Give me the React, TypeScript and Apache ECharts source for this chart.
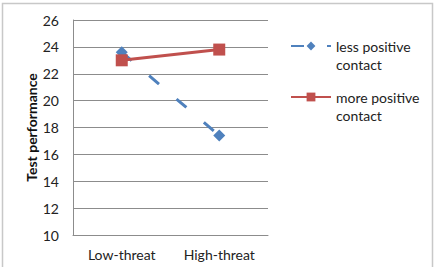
import React, { useEffect, useRef } from "react";
import * as echarts from "echarts";

const categories = ["Low-threat", "High-threat"];
const lessPositive = [23.6, 17.4];
const morePositive = [23.0, 23.8];
const seriesNames = ["less positive contact", "more positive contact"];
const legendLines: Record<string, string[]> = {
  "less positive contact": ["less positive", "contact"],
  "more positive contact": ["more positive", "contact"],
};
const yAxisName = "Test performance";

export default function App() {
  const ref = useRef<HTMLDivElement>(null);
  useEffect(() => {
    const chart = echarts.init(ref.current!, null, { renderer: "svg" });
    const font = "Lato, 'Open Sans', sans-serif";
    const legendBase = (name: string, top: number) => ({
      orient: "vertical",
      left: 290,
      top,
      padding: 0,
      itemWidth: 40,
      itemHeight: 11,
      data: [name],
      formatter: (n: string) =>
        "{e| }\n" + legendLines[n].map((l) => "{a|" + l + "}").join("\n"),
      textStyle: {
        fontSize: 14,
        fontFamily: font,
        color: "#222",
        rich: {
          a: { fontSize: 14, fontFamily: font, color: "#222", lineHeight: 18 },
          e: { fontSize: 14, fontFamily: font, lineHeight: 18 },
        },
      },
    });
    chart.setOption({
      animation: false,
      backgroundColor: "#ffffff",
      grid: { left: 73, right: 168, top: 20, bottom: 32 },
      graphic: [
        {
          type: "polyline",
          shape: { points: [[2.5, 300], [2.5, 3.5], [432.5, 3.5], [432.5, 300]] },
          style: { stroke: "#c8c8c8", lineWidth: 1.5, fill: "none" },
          silent: true,
        },
      ],
      xAxis: {
        type: "category",
        data: categories,
        axisLine: { lineStyle: { color: "#8c8c8c", width: 1 } },
        axisTick: { show: false },
        axisLabel: { color: "#222", fontSize: 14, fontFamily: font, margin: 12 },
      },
      yAxis: {
        type: "value",
        min: 10,
        max: 26,
        interval: 2,
        name: yAxisName,
        nameLocation: "middle",
        nameGap: 35,
        nameTextStyle: { fontSize: 14, fontWeight: "bold", fontFamily: font, color: "#111" },
        axisLine: { show: true, lineStyle: { color: "#8c8c8c", width: 1 } },
        axisTick: { show: false },
        axisLabel: { color: "#222", fontSize: 14, fontFamily: font, margin: 14 },
        splitLine: { lineStyle: { color: "#8c8c8c", width: 1 } },
      },
      legend: [legendBase(seriesNames[0], 21), legendBase(seriesNames[1], 72)],
      series: [
        {
          name: seriesNames[0],
          type: "line",
          data: lessPositive,
          symbol: "diamond",
          symbolSize: 12,
          itemStyle: { color: "#4F81BD" },
          lineStyle: { color: "#4F81BD", width: 3, type: [13, 23] },
          z: 2,
        },
        {
          name: seriesNames[1],
          type: "line",
          data: morePositive,
          symbol: "rect",
          symbolSize: 12,
          itemStyle: { color: "#C0504D" },
          lineStyle: { color: "#C0504D", width: 3 },
          z: 3,
        },
      ],
    });
    return () => chart.dispose();
  }, []);
  return (
    <div
      ref={ref}
      style={{ position: "fixed", left: 0, top: 0, width: 436, height: 267 }}
    />
  );
}
